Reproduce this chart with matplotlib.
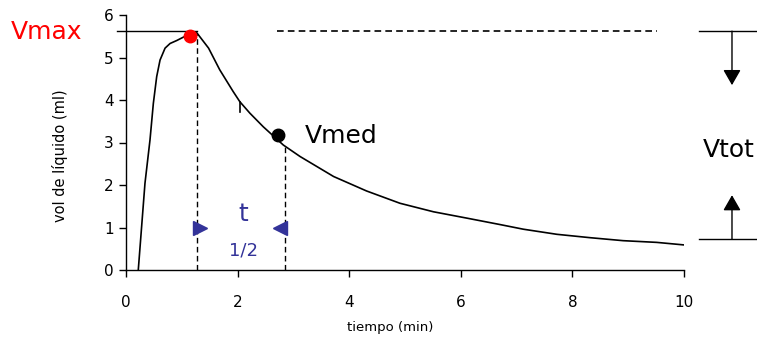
import matplotlib
matplotlib.use('Agg')
import matplotlib.pyplot as plt

# volume curve (min, ml)
tiempo = [0.22, 0.28, 0.34, 0.43, 0.49, 0.55, 0.61, 0.70, 0.79, 0.91, 1.03, 1.18, 1.27,
          1.48, 1.68, 1.92, 2.04, 2.22, 2.46, 2.82, 3.12, 3.72, 4.31, 4.91, 5.51, 6.11,
          6.70, 7.12, 7.72, 8.32, 8.91, 9.51, 10.0]
volumen = [0.0, 1.02, 2.04, 3.06, 3.92, 4.55, 4.94, 5.22, 5.33, 5.40, 5.48, 5.57, 5.58,
           5.22, 4.71, 4.20, 3.96, 3.69, 3.37, 2.94, 2.67, 2.20, 1.86, 1.57, 1.37, 1.22,
           1.07, 0.96, 0.84, 0.76, 0.69, 0.65, 0.59]

vmax_pt = (1.15, 5.51)
vmed_pt = (2.73, 3.18)
vmax_level = 5.62
t_ini, t_fin = 1.27, 2.85
vol_fin = 2.94
xticks = [0, 2, 4, 6, 8, 10]
yticks = [0, 1, 2, 3, 4, 5, 6]
azul = '#333399'

fig = plt.figure(figsize=(7.57, 3.4), dpi=100)
ax = fig.add_axes([126 / 757, 70 / 340, 558 / 757, 255 / 340])

ax.plot(tiempo, volumen, color='black', lw=1.2)
# small glitch mark on the curve
ax.plot([2.04, 2.04], [3.96, 3.72], color='black', lw=1.2)

ax.plot(*vmax_pt, 'o', color='red', ms=9, zorder=5)
ax.plot(*vmed_pt, 'o', color='black', ms=9, zorder=5)

# Vmax reference lines
ax.plot([-0.16, 1.27], [vmax_level, vmax_level], color='black', lw=1, clip_on=False)
ax.plot([2.71, 9.52], [vmax_level, vmax_level], color='black', lw=1.2, dashes=(4, 2.5))
ax.plot([t_ini, t_ini], [0, 5.55], color='black', lw=1, dashes=(4, 2.5))
ax.plot([t_fin, t_fin], [0, vol_fin], color='black', lw=1, dashes=(4, 2.5))

# t 1/2 markers
ax.plot([1.33], [0.99], marker='>', color=azul, ms=10, ls='none')
ax.plot([2.76], [0.99], marker='<', color=azul, ms=10, ls='none')
ax.text(2.11, 1.32, 't', color=azul, fontsize=18, ha='center', va='center')
ax.text(2.10, 0.47, '1/2', color=azul, fontsize=13, ha='center', va='center')

ax.text(-1.42, 5.6, 'Vmax', color='red', fontsize=18, ha='center', va='center',
        clip_on=False)
ax.text(3.85, 3.15, 'Vmed', color='black', fontsize=18, ha='center', va='center')

# Vtot bracket on the right
for yl in [5.62, 0.73]:
    ax.plot([10.27, 11.35], [yl, yl], color='black', lw=1, clip_on=False)
flecha = dict(arrowstyle='-|>,head_length=0.47,head_width=0.27', color='black', lw=1,
              mutation_scale=20, shrinkA=0, shrinkB=0)
ax.annotate('', xy=(10.86, 4.35), xytext=(10.86, 5.62), annotation_clip=False,
            arrowprops=flecha)
ax.annotate('', xy=(10.86, 1.76), xytext=(10.86, 0.73), annotation_clip=False,
            arrowprops=flecha)
ax.text(10.8, 2.82, 'Vtot', color='black', fontsize=18, ha='center', va='center',
        clip_on=False)

ax.set_xlim(0, 10)
ax.set_ylim(0, 6)
ax.set_xticks(xticks)
ax.set_yticks(yticks)
ax.tick_params(labelsize=11, length=5, width=1, direction='out')
ax.tick_params(axis='x', pad=13)
ax.tick_params(axis='y', pad=4)
for s in ['top', 'right']:
    ax.spines[s].set_visible(False)
for s in ['left', 'bottom']:
    ax.spines[s].set_linewidth(1)

ax.set_xlabel('tiempo (min)', fontsize=9.5)
ax.xaxis.set_label_coords(0.473, -0.20)
ax.set_ylabel('vol de líquido (ml)', fontsize=10.5)
ax.yaxis.set_label_coords((68 - 126) / 558, (270 - 156) / 255)

fig.savefig('out.png', dpi=100)
